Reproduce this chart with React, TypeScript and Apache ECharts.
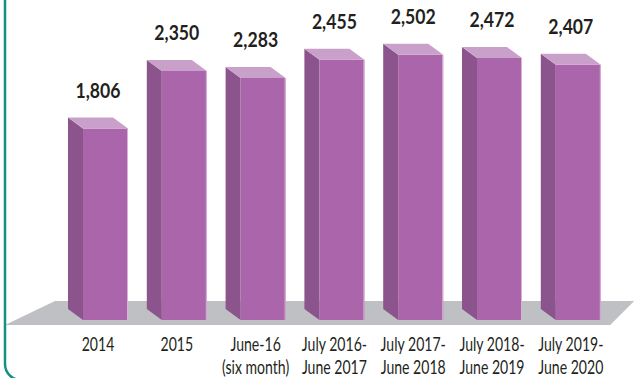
import React, { useEffect, useRef } from "react";
import * as echarts from "echarts";

const categories: string[] = [
  "2014",
  "2015",
  "June-16\n(six month)",
  "July 2016-\nJune 2017",
  "July 2017-\nJune 2018",
  "July 2018-\nJune 2019",
  "July 2019-\nJune 2020",
];
const values: number[] = [1806, 2350, 2283, 2455, 2502, 2472, 2407];

const FONT = "Lato, 'Open Sans', sans-serif";
const FRONT = "#ab66ab";
const SIDE = "#8c548c";
const TOP = "#c9a0c9";
const FLOOR = "#bfc0c3";
const TEAL = "#12927f";

export default function App() {
  const ref = useRef<HTMLDivElement>(null);
  useEffect(() => {
    if (!ref.current) return;
    const chart = echarts.init(ref.current, null, { renderer: "svg" });
    const DY = 11; // depth y
    chart.setOption({
      animation: false,
      backgroundColor: "#ffffff",
      grid: { left: 58.6, right: 27.8, top: 20, bottom: 58 },
      xAxis: {
        type: "category",
        data: categories,
        axisLine: { show: false },
        axisTick: { show: false },
        axisLabel: { show: false },
      },
      yAxis: {
        type: "value",
        min: 0,
        max: 2830,
        show: false,
        splitLine: { show: false },
      },
      graphic: [
        {
          type: "rect",
          z: 100,
          shape: { x: 5, y: -40, width: 700, height: 420, r: 16 },
          style: { fill: "none", stroke: TEAL, lineWidth: 2.5 },
          silent: true,
        },
      ],
      series: [
        {
          type: "custom",
          name: "floor",
          data: [[0]],
          z: 1,
          renderItem: (params: any, api: any) => {
            const cs = params.coordSys;
            const x0 = cs.x;
            const x1 = cs.x + cs.width;
            const yb = cs.y + cs.height;
            return {
              type: "polygon",
              shape: {
                points: [
                  [x0 - 53.6, yb + 5],
                  [x1, yb + 5],
                  [x1 + 24, yb - 19],
                  [x0 - 3.6, yb - 19],
                ],
              },
              style: { fill: FLOOR },
            };
          },
        },
        {
          type: "custom",
          name: "categoryLabels",
          z: 3,
          data: categories.map((_, i) => [i, 0]),
          renderItem: (params: any, api: any) => {
            const p = api.coord([api.value(0), 0]);
            return {
              type: "text",
              x: p[0],
              y: p[1] + 13,
              scaleX: 0.74,
              style: {
                text: categories[params.dataIndex],
                x: 0,
                y: 0,
                align: "center",
                verticalAlign: "top",
                fontFamily: FONT,
                fontSize: 19,
                lineHeight: 23,
                fill: "#231f20",
              },
            };
          },
        },
        {
          type: "custom",
          name: "bars",
          z: 2,
          data: values.map((v, i) => [i, v]),
          renderItem: (params: any, api: any) => {
            const top = api.coord([api.value(0), api.value(1)]);
            const base = api.coord([api.value(0), 0]);
            const c = top[0];
            const yt = top[1];
            const yb = base[1];
            const v = api.value(1) as number;
            return {
              type: "group",
              children: [
                {
                  type: "polygon",
                  shape: {
                    points: [
                      [c - 30, yt - DY],
                      [c - 15, yt],
                      [c - 15, yb],
                      [c - 30, yb - DY],
                    ],
                  },
                  style: { fill: SIDE },
                },
                {
                  type: "rect",
                  shape: { x: c - 15, y: yt, width: 45, height: yb - yt },
                  style: { fill: FRONT },
                },
                {
                  type: "line",
                  shape: { x1: c + 29.5, y1: yt, x2: c + 29.5, y2: yb },
                  style: { stroke: "#d7b3d7", lineWidth: 1 },
                },
                {
                  type: "polygon",
                  shape: {
                    points: [
                      [c - 30, yt - DY],
                      [c + 15, yt - DY],
                      [c + 30, yt],
                      [c - 15, yt],
                    ],
                  },
                  style: { fill: TOP },
                },
                {
                  type: "text",
                  x: c,
                  y: yt - 39,
                  scaleX: 0.86,
                  style: {
                    text: v.toLocaleString("en-US"),
                    x: 0,
                    y: 0,
                    align: "center",
                    verticalAlign: "middle",
                    fontFamily: FONT,
                    fontWeight: "bold",
                    fontSize: 20.5,
                    fill: "#231f20",
                  },
                },
              ],
            };
          },
        },
      ],
    });
    return () => chart.dispose();
  }, []);
  return (
    <div
      ref={ref}
      style={{ position: "fixed", left: 0, top: 0, width: 638, height: 378 }}
    />
  );
}
